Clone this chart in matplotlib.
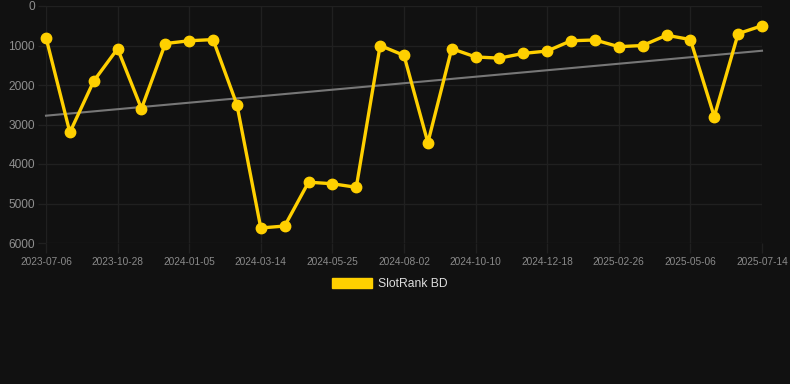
import numpy as np
import matplotlib
matplotlib.use("Agg")
import matplotlib.pyplot as plt
from matplotlib.patches import Patch

tick_labels = ["2023-07-06", "2023-10-28", "2024-01-05", "2024-03-14", "2024-05-25",
               "2024-08-02", "2024-10-10", "2024-12-18", "2025-02-26", "2025-05-06",
               "2025-07-14"]
ranks = [800, 3200, 1900, 1080, 2600, 950, 880, 850, 2500, 5620,
         5570, 4460, 4500, 4590, 1000, 1250, 3460, 1080, 1290, 1320,
         1200, 1140, 880, 860, 1030, 1000, 740, 850, 2800, 700, 500]
series_name = "SlotRank BD"

bg = "#111111"
gold = "#FFD000"
gridc = "#202020"

fig = plt.figure(figsize=(7.9, 3.84), dpi=100, facecolor=bg)
ax = fig.add_axes([46/790, 1 - 243/384, (762 - 46)/790, (243 - 6)/384], facecolor=bg)

x = np.arange(len(ranks))
y = np.array(ranks, dtype=float)

coef = np.polyfit(x, y, 1)
ax.plot(x, np.polyval(coef, x), color="#777777", lw=1.5, zorder=2, clip_on=False)
ax.plot(x, y, color=gold, lw=2.4, marker="o", markersize=7.5, zorder=3, clip_on=False)

ax.set_xlim(0, len(ranks) - 1)
ax.set_ylim(6000, 0)
ax.set_yticks(np.arange(0, 6001, 1000))
ax.set_xticks(np.arange(0, len(ranks), 3))
ax.set_xticklabels(tick_labels)

for s in ax.spines.values():
    s.set_visible(False)
ax.grid(True, color=gridc, lw=1.0)
ax.set_axisbelow(True)
ax.tick_params(axis="x", length=7, width=1.0, color=gridc, pad=3, labelsize=7.3, labelcolor="#8a8a8a")
ax.tick_params(axis="y", length=6, width=1.0, color=gridc, pad=2, labelsize=8.6, labelcolor="#8f8f8f")
for lab in ax.get_xticklabels() + ax.get_yticklabels():
    lab.set_family("Liberation Sans")

leg = fig.legend(handles=[Patch(facecolor=gold, edgecolor=gold, label=series_name)],
                 loc="center", bbox_to_anchor=(390/790, 1 - 284/384), frameon=False,
                 handlelength=3.3, handleheight=0.9, handletextpad=0.5,
                 prop={"family": "Liberation Sans", "size": 8.7})
for t in leg.get_texts():
    t.set_color("#dddddd")

fig.savefig("out.png", dpi=100, facecolor=bg)
